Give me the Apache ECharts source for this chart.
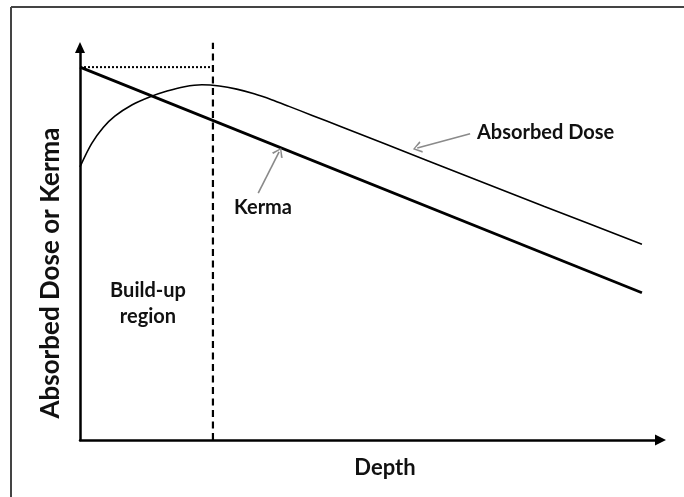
<!DOCTYPE html>
<html>
<head>
<meta charset="utf-8">
<script src="https://cdn.jsdelivr.net/npm/echarts@6/dist/echarts.min.js"></script>
<style>
  html, body { margin: 0; padding: 0; background: #fff; }
  #chart { width: 684px; height: 497px; }
</style>
</head>
<body>
<div id="chart"></div>
<script>
// depth and value in arbitrary units (0-100)
const kermaDepth = [0, 96.8]
const kermaValue = [95.0, 37.5]

const doseDepth = [0, 2, 4, 6, 9, 12, 15, 18, 21, 24, 27, 30, 33, 36, 40, 45, 60, 80, 96.8]
const doseValue = [69.6, 75.5, 79.6, 82.5, 85.4, 87.4, 88.9, 90.0, 90.5, 90.2, 89.4, 88.2, 86.7, 85.0, 82.7, 79.8, 71.1, 59.5, 49.9]

const buildUpDepth = 22.9
const surfaceKerma = 95.0
const dashTop = 101.2

// annotation arrows: [tail, tip]
const doseArrow = [[67.2, 78.0], [58.1, 74.4]]
const kermaArrow = [[30.7, 62.9], [34.3, 73.4]]

const toPairs = (xs, ys) => xs.map((x, i) => [x, ys[i]])

const chevron = 'path://M0,10 L5,0 L10,10 L8.6,10.8 L5,2.6 L1.4,10.8 Z'
const textFont = 'Lato, "Open Sans", sans-serif'

const chart = echarts.init(document.getElementById('chart'))
chart.setOption({
  backgroundColor: '#fff',
  animation: false,
  grid: { left: 80, right: 23.5, top: 47.5, bottom: 57 },
  xAxis: {
    type: 'value', min: 0, max: 100,
    axisLine: { onZero: false, symbol: ['none', 'triangle'], symbolSize: [11, 11], lineStyle: { color: '#000', width: 2.5 } },
    axisTick: { show: false }, axisLabel: { show: false }, splitLine: { show: false }
  },
  yAxis: {
    type: 'value', min: 0, max: 100,
    axisLine: { onZero: false, symbol: ['none', 'triangle'], symbolSize: [10, 11], lineStyle: { color: '#000', width: 2.5 } },
    axisTick: { show: false }, axisLabel: { show: false }, splitLine: { show: false }
  },
  series: [
    {
      name: 'Kerma', type: 'line', data: toPairs(kermaDepth, kermaValue),
      showSymbol: false, lineStyle: { color: '#000', width: 2.8 },
      markLine: {
        silent: true, symbol: ['none', chevron], symbolSize: [12, 9],
        lineStyle: { color: '#8a8a8a', width: 1.6, type: 'solid' }, label: { show: false },
        data: [[{ coord: kermaArrow[0] }, { coord: kermaArrow[1] }]]
      }
    },
    {
      name: 'Absorbed Dose', type: 'line', data: toPairs(doseDepth, doseValue),
      smooth: 0.3, showSymbol: false, lineStyle: { color: '#000', width: 1.6 },
      markLine: {
        silent: true, symbol: ['none', chevron], symbolSize: [12, 9],
        lineStyle: { color: '#8a8a8a', width: 1.6, type: 'solid' }, label: { show: false },
        data: [[{ coord: doseArrow[0] }, { coord: doseArrow[1] }]]
      }
    },
    {
      name: 'surface', type: 'line', data: [[0, surfaceKerma], [buildUpDepth, surfaceKerma]],
      showSymbol: false, lineStyle: { color: '#000', width: 2, type: [2, 2] }
    },
    {
      name: 'dmax', type: 'line', clip: false, data: [[buildUpDepth, 0], [buildUpDepth, dashTop]],
      showSymbol: false, lineStyle: { color: '#000', width: 2.2, type: [7, 4.5] }
    }
  ],
  graphic: [
    { type: 'line', shape: { x1: 11, y1: 7, x2: 684, y2: 7 }, style: { stroke: '#444', lineWidth: 2 } },
    { type: 'line', shape: { x1: 11, y1: 7, x2: 11, y2: 497 }, style: { stroke: '#444', lineWidth: 2 } },
    {
      type: 'text', x: 51, y: 273, rotation: Math.PI / 2,
      style: { text: 'Absorbed Dose or Kerma', font: 'bold 26px ' + textFont, fill: '#111', align: 'center', verticalAlign: 'middle' }
    },
    {
      type: 'text', x: 385, y: 468,
      style: { text: 'Depth', font: 'bold 22px ' + textFont, fill: '#111', align: 'center', verticalAlign: 'middle' }
    },
    {
      type: 'text', x: 477, y: 133,
      style: { text: 'Absorbed Dose', font: 'bold 20px ' + textFont, fill: '#111', align: 'left', verticalAlign: 'middle' }
    },
    {
      type: 'text', x: 234, y: 208,
      style: { text: 'Kerma', font: 'bold 20px ' + textFont, fill: '#111', align: 'left', verticalAlign: 'middle' }
    },
    {
      type: 'text', x: 148, y: 304,
      style: { text: 'Build-up\nregion', font: 'bold 20px ' + textFont, lineHeight: 26, fill: '#111', align: 'center', verticalAlign: 'middle' }
    }
  ]
})
</script>
</body>
</html>
